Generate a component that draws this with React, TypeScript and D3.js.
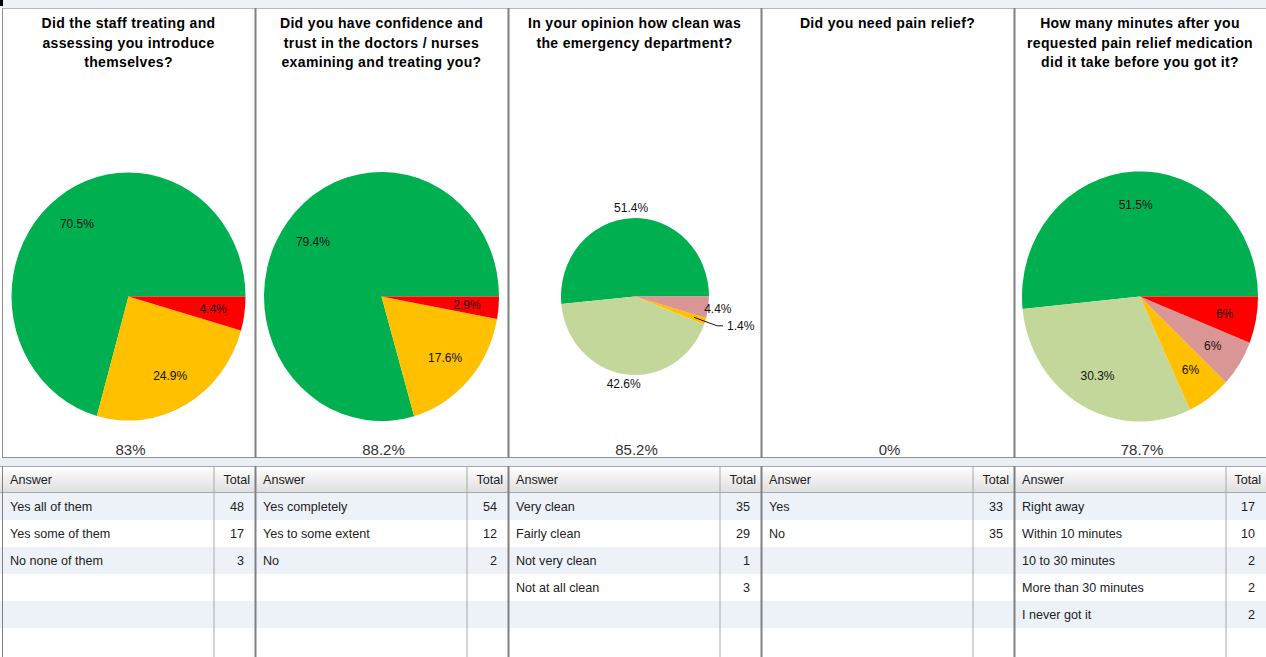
import React from "react";
import * as d3 from "d3";

// ---------- DATA ----------
const titles: string[][] = [
  ["Did the staff treating and", "assessing you introduce", "themselves?"],
  ["Did you have confidence and", "trust in the doctors / nurses", "examining and treating you?"],
  ["In your opinion how clean was", "the emergency department?"],
  ["Did you need pain relief?"],
  ["How many minutes after you", "requested pain relief medication", "did it take before you got it?"],
];

const answers1 = ["Yes all of them", "Yes some of them", "No none of them"];
const totals1 = [48, 17, 3];
const pct1 = [70.5, 24.9, 4.4];

const answers2 = ["Yes completely", "Yes to some extent", "No"];
const totals2 = [54, 12, 2];
const pct2 = [79.4, 17.6, 2.9];

const answers3 = ["Very clean", "Fairly clean", "Not very clean", "Not at all clean"];
const totals3 = [35, 29, 1, 3];
const pct3 = [51.4, 42.6, 1.4, 4.4];

const answers4 = ["Yes", "No"];
const totals4 = [33, 35];
const pct4: number[] = [];

const answers5 = ["Right away", "Within 10 minutes", "10 to 30 minutes", "More than 30 minutes", "I never got it"];
const totals5 = [17, 10, 2, 2, 2];
const pct5 = [51.5, 30.3, 6, 6, 6];

const scores = ["83%", "88.2%", "85.2%", "0%", "78.7%"];

// ---------- STYLE ----------
const GREEN = "#00b050";
const YELLOW = "#ffc000";
const RED = "#ff0000";
const LGREEN = "#c4d79b";
const PINK = "#d99694";

const W = 1266;
const H = 657;
const panelX = [2, 255, 508, 761, 1014, 1266];
const panelTop = 8;
const panelBottom = 458;
const tableTop = 466;
const headerH = 27;
const rowH = 27;
const totalColOffset = 212;
const pieCY = 296.5;
const SY = 1.06;

const FONT = "'Liberation Sans', Arial, sans-serif";

type PanelDef = {
  answers: string[];
  totals: number[];
  pct: number[];
  colors: string[];
  rx: number;
  outside: boolean;
};

const panels: PanelDef[] = [
  { answers: answers1, totals: totals1, pct: pct1, colors: [GREEN, YELLOW, RED], rx: 117, outside: false },
  { answers: answers2, totals: totals2, pct: pct2, colors: [GREEN, YELLOW, RED], rx: 117.5, outside: false },
  { answers: answers3, totals: totals3, pct: pct3, colors: [GREEN, LGREEN, YELLOW, PINK], rx: 74, outside: true },
  { answers: answers4, totals: totals4, pct: pct4, colors: [GREEN, RED], rx: 117, outside: false },
  { answers: answers5, totals: totals5, pct: pct5, colors: [GREEN, LGREEN, YELLOW, PINK, RED], rx: 118, outside: false },
];

const pieGen = d3
  .pie<number>()
  .sort(null)
  .value((d) => d)
  .startAngle(Math.PI / 2)
  .endAngle(Math.PI / 2 - 2 * Math.PI);

function fmt(v: number) {
  return (Number.isInteger(v) ? String(v) : v.toFixed(1)) + "%";
}

const LBL = 12;

function PiePanel({ p, i }: { p: PanelDef; i: number }) {
  const x0 = panelX[i];
  const x1 = panelX[i + 1];
  const cx = (x0 + x1) / 2 + (i === 2 ? 0.5 : 0);
  const arcs = pieGen(p.pct);
  const arc = d3.arc<d3.PieArcDatum<number>>().innerRadius(0).outerRadius(p.rx);
  const labels = arcs.map((a, k) => {
    const mid = (a.startAngle + a.endAngle) / 2;
    const sx = Math.sin(mid);
    const syv = -Math.cos(mid);
    const txt = fmt(p.pct[k]);
    if (!p.outside) {
      const r = p.rx * 0.73;
      return (
        <text key={k} x={cx + sx * r} y={pieCY + syv * r * SY} textAnchor="middle" dominantBaseline="central"
          fontSize={LBL} fontFamily={FONT} fill="#111">{txt}</text>
      );
    }
    if (p.pct[k] < 2) {
      const r1 = p.rx * 0.84;
      const px = cx + sx * r1;
      const py = pieCY + syv * r1 * SY;
      const ex = px + 29;
      const ey = py + 8.5;
      return (
        <g key={k}>
          <path d={`M${px},${py}L${ex - 6},${ey}L${ex},${ey}`} stroke="#111" fill="none" strokeWidth={1} />
          <text x={ex + 4} y={ey} dominantBaseline="central" fontSize={LBL} fontFamily={FONT} fill="#111">{txt}</text>
        </g>
      );
    }
    const r = p.rx * 1.13;
    return (
      <text key={k} x={cx + sx * r} y={pieCY + syv * r * SY} textAnchor="middle" dominantBaseline="central"
        fontSize={LBL} fontFamily={FONT} fill="#111">{txt}</text>
    );
  });

  return (
    <g>
      {titles[i].map((t, k) => (
        <text key={k} x={(x0 + x1) / 2} y={23 + k * 19.5} textAnchor="middle" dominantBaseline="central"
          fontSize={14} fontWeight="bold" fontFamily={FONT} fill="#000" letterSpacing={0.35}>{t}</text>
      ))}
      <g transform={`translate(${cx},${pieCY}) scale(1,${SY})`}>
        {arcs.map((a, k) => (
          <path key={k} d={arc(a) || ""} fill={p.colors[k]} />
        ))}
      </g>
      {labels}
      <text x={(x0 + x1) / 2 + 2} y={449} textAnchor="middle" dominantBaseline="central" fontSize={15}
        fontFamily={FONT} fill="#333">{scores[i]}</text>
    </g>
  );
}

const TF = 12.6;

function TablePanel({ p, i }: { p: PanelDef; i: number }) {
  const x0 = panelX[i];
  const xt = x0 + totalColOffset;
  const x1 = panelX[i + 1];
  const rows = d3.range(6);
  return (
    <g>
      <text x={x0 + 8} y={tableTop + headerH / 2} dominantBaseline="central" fontSize={TF} fontFamily={FONT} fill="#222">Answer</text>
      <text x={x1 - 5} y={tableTop + headerH / 2} textAnchor="end" dominantBaseline="central" fontSize={TF} fontFamily={FONT} fill="#222">Total</text>
      {rows.map((r) => (
        <g key={r}>
          {p.answers[r] !== undefined && (
            <>
              <text x={x0 + 8} y={tableTop + headerH + r * rowH + rowH / 2} dominantBaseline="central" fontSize={TF}
                fontFamily={FONT} fill="#222">{p.answers[r]}</text>
              <text x={x1 - 11} y={tableTop + headerH + r * rowH + rowH / 2} textAnchor="end" dominantBaseline="central"
                fontSize={TF} fontFamily={FONT} fill="#222">{p.totals[r]}</text>
            </>
          )}
        </g>
      ))}
      <line x1={xt} x2={xt} y1={tableTop} y2={H} stroke="#a8a8a8" strokeWidth={1} />
    </g>
  );
}

export default function App() {
  const rows = d3.range(6);
  return (
    <svg width={W} height={H} style={{ position: "absolute", left: 0, top: 0, background: "#fff" }}>
      <defs>
        <linearGradient id="hdr" x1="0" y1="0" x2="0" y2="1">
          <stop offset="0" stopColor="#ffffff" />
          <stop offset="1" stopColor="#dedede" />
        </linearGradient>
      </defs>
      <rect x={0} y={0} width={W} height={panelTop} fill="#eef2f6" />
      <rect x={0} y={0} width={3} height={6} fill="#000" />
      <rect x={panelX[0]} y={panelTop} width={W - panelX[0]} height={panelBottom - panelTop} fill="#fff" />
      <rect x={0} y={panelBottom} width={W} height={tableTop - panelBottom} fill="#e9eff5" />
      <rect x={0} y={tableTop} width={W} height={headerH} fill="url(#hdr)" />
      {rows.map((r) => (
        <rect key={r} x={0} y={tableTop + headerH + r * rowH} width={W} height={rowH} fill={r % 2 === 0 ? "#edf2f9" : "#ffffff"} />
      ))}
      <line x1={0} x2={W} y1={tableTop + 0.5} y2={tableTop + 0.5} stroke="#a8a8a8" />
      <line x1={0} x2={W} y1={tableTop + headerH - 0.5} y2={tableTop + headerH - 0.5} stroke="#a8a8a8" />

      {panels.map((p, i) => (
        <PiePanel key={"p" + i} p={p} i={i} />
      ))}
      {panels.map((p, i) => (
        <TablePanel key={"t" + i} p={p} i={i} />
      ))}

      <line x1={panelX[0]} x2={W} y1={panelTop + 0.5} y2={panelTop + 0.5} stroke="#b8b8b8" />
      <line x1={panelX[0]} x2={W} y1={panelBottom - 0.5} y2={panelBottom - 0.5} stroke="#909090" />
      {panelX.slice(0, 5).map((x, k) => (
        <g key={k}>
          <line x1={x + 0.5} x2={x + 0.5} y1={panelTop} y2={panelBottom} stroke={k === 0 ? "#909090" : "#808080"} strokeWidth={k === 0 ? 1 : 2} />
          <line x1={x + 0.5} x2={x + 0.5} y1={tableTop} y2={H} stroke="#808080" strokeWidth={k === 0 ? 1 : 2} />
        </g>
      ))}
    </svg>
  );
}
